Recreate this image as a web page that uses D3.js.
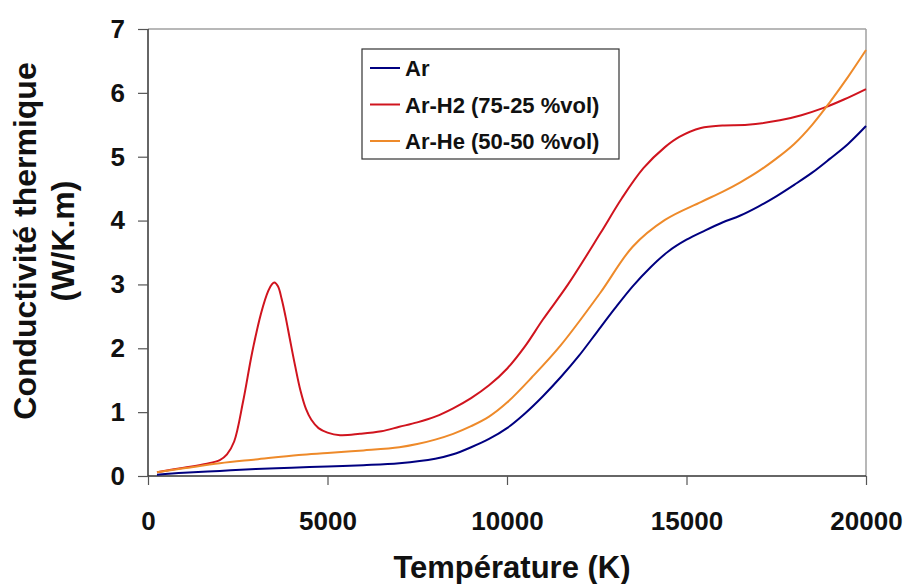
<!DOCTYPE html>
<html>
<head>
<meta charset="utf-8">
<script src="https://d3js.org/d3.v7.min.js"></script>
<style>
    body { margin: 0; background: #fff; }
    text { font-family: "Liberation Sans", Arial, sans-serif; font-weight: bold; fill: #111; }
</style>
</head>
<body>
<div id="chart-area"></div>
<script>
/*
*    conductivite thermique
*/

// Data
var arTemps = [250, 1000, 2000, 3000, 4000, 5000, 6000, 7000, 8000, 8500, 9000, 9500, 10000, 10500, 11000, 11500, 12000, 12500, 13000, 13500, 14000, 14500, 15000, 15500, 16000, 16500, 17000, 17500, 18000, 18500, 19000, 19500, 20000];
var arVals  = [0.02, 0.05, 0.08, 0.11, 0.13, 0.15, 0.17, 0.20, 0.27, 0.34, 0.45, 0.58, 0.75, 0.98, 1.25, 1.55, 1.88, 2.25, 2.62, 2.97, 3.27, 3.52, 3.70, 3.84, 3.97, 4.08, 4.22, 4.38, 4.56, 4.75, 4.97, 5.20, 5.48];

var h2Temps = [250, 1000, 1600, 2000, 2200, 2400, 2650, 2900, 3150, 3350, 3450, 3520, 3620, 3720, 3830, 3950, 4100, 4250, 4400, 4550, 4750, 5000, 5350, 5900, 6500, 7000, 7500, 8000, 8500, 9000, 9500, 10000, 10500, 11000, 11700, 12600, 13200, 13800, 14400, 14800, 15400, 16000, 16700, 17600, 18200, 18800, 19400, 20000];
var h2Vals  = [0.06, 0.13, 0.19, 0.25, 0.34, 0.54, 1.17, 1.93, 2.55, 2.90, 3.00, 3.03, 2.97, 2.78, 2.50, 2.15, 1.72, 1.33, 1.05, 0.88, 0.75, 0.68, 0.64, 0.66, 0.70, 0.77, 0.84, 0.93, 1.06, 1.22, 1.42, 1.68, 2.03, 2.45, 3.00, 3.80, 4.35, 4.82, 5.15, 5.31, 5.45, 5.49, 5.50, 5.57, 5.65, 5.76, 5.90, 6.06];

var heTemps = [250, 1000, 2000, 3000, 4200, 5000, 6000, 7000, 7500, 8000, 8500, 9000, 9500, 10000, 10700, 11500, 12600, 13500, 14400, 15400, 16000, 16500, 17000, 17500, 18000, 18500, 19000, 19500, 20000];
var heVals  = [0.06, 0.12, 0.20, 0.26, 0.33, 0.36, 0.40, 0.45, 0.50, 0.57, 0.66, 0.78, 0.93, 1.15, 1.55, 2.05, 2.87, 3.59, 4.01, 4.29, 4.45, 4.60, 4.77, 4.97, 5.20, 5.50, 5.86, 6.25, 6.67];

var seriesNames = ["Ar", "Ar-H2 (75-25 %vol)", "Ar-He (50-50 %vol)"];
var xTicks = [0, 5000, 10000, 15000, 20000];
var yTicks = [0, 1, 2, 3, 4, 5, 6, 7];

var margin = {top: 29, right: 42, bottom: 108, left: 148},
    width = 908 - margin.left - margin.right,
    height = 584 - margin.top - margin.bottom;

var svg = d3.select("#chart-area").append("svg")
    .attr("width", 908)
    .attr("height", 584);

var g = svg.append("g")
    .attr("transform", "translate(" + margin.left + "," + margin.top + ")");

// Scales
var x = d3.scaleLinear().domain([0, 20000]).range([0, width]);
var y = d3.scaleLinear().domain([0, 7]).range([height, 0]);
var color = d3.scaleOrdinal()
    .domain(seriesNames)
    .range(["#000080", "#d0141e", "#ee8a2a"]);

// Frame (top and right)
g.append("line")
    .attr("x1", 0).attr("x2", width)
    .attr("y1", 0).attr("y2", 0)
    .attr("stroke", "#a0a0a0").attr("stroke-width", 1.5);
g.append("line")
    .attr("x1", width).attr("x2", width)
    .attr("y1", 0).attr("y2", height)
    .attr("stroke", "#a0a0a0").attr("stroke-width", 1.5);

// Axes
var xAxis = g.append("g")
    .attr("transform", "translate(0," + height + ")")
    .call(d3.axisBottom(x).tickValues(xTicks).tickSize(9).tickPadding(27).tickSizeOuter(0)
        .tickFormat(d3.format("d")));

var yAxis = g.append("g")
    .call(d3.axisLeft(y).tickValues(yTicks).tickSize(10).tickPadding(13).tickSizeOuter(0)
        .tickFormat(d3.format("d")));

[xAxis, yAxis].forEach(function(a) {
    a.select(".domain").attr("stroke", "#333").attr("stroke-width", 1.5);
    a.selectAll(".tick line").attr("stroke", "#555").attr("stroke-width", 1.2);
    a.selectAll(".tick text")
        .attr("fill", "#111")
        .style("font-size", "26px")
        .style("font-weight", "bold")
        .style("font-family", "'Liberation Sans', Arial, sans-serif");
});
xAxis.select(".domain").attr("d", "M0,0H" + width);
yAxis.select(".domain").attr("d", "M0,0V" + height);

// Axis titles
svg.append("text")
    .attr("x", 512)
    .attr("y", 578)
    .attr("text-anchor", "middle")
    .style("font-size", "31px")
    .text("Température (K)");

var yTitle = svg.append("text")
    .attr("transform", "translate(0,241) rotate(-90)")
    .attr("text-anchor", "middle")
    .style("font-size", "32px");
yTitle.append("tspan").attr("x", 0).attr("y", 36).text("Conductivité thermique");
yTitle.append("tspan").attr("x", 0).attr("y", 74).text("(W/K.m)");

// Lines
var line = d3.line()
    .x(function(d) { return x(d[0]); })
    .y(function(d) { return y(d[1]); })
    .curve(d3.curveCatmullRom.alpha(0.5));

var series = [
    {name: seriesNames[0], values: d3.zip(arTemps, arVals)},
    {name: seriesNames[1], values: d3.zip(h2Temps, h2Vals)},
    {name: seriesNames[2], values: d3.zip(heTemps, heVals)}
];

g.selectAll(".series")
    .data(series)
    .enter()
    .append("path")
    .attr("class", "series")
    .attr("fill", "none")
    .attr("stroke", function(d) { return color(d.name); })
    .attr("stroke-width", 2)
    .attr("stroke-linejoin", "round")
    .attr("d", function(d) { return line(d.values); });

// Legend
var legend = svg.append("g")
    .attr("transform", "translate(362,49)");

legend.append("rect")
    .attr("width", 257)
    .attr("height", 110)
    .attr("fill", "#fff")
    .attr("stroke", "#333")
    .attr("stroke-width", 1.2);

var legendRow = legend.selectAll(".legend-row")
    .data(seriesNames)
    .enter()
    .append("g")
    .attr("class", "legend-row")
    .attr("transform", function(d, i) {
        return "translate(0," + (19 + i * 36.5) + ")";
    });

legendRow.append("line")
    .attr("x1", 8).attr("x2", 38)
    .attr("y1", 0).attr("y2", 0)
    .attr("stroke", function(d) { return color(d); })
    .attr("stroke-width", 2);

legendRow.append("text")
    .attr("x", 43)
    .attr("y", 8)
    .style("font-size", "22px")
    .text(function(d) { return d; });
</script>
</body>
</html>
